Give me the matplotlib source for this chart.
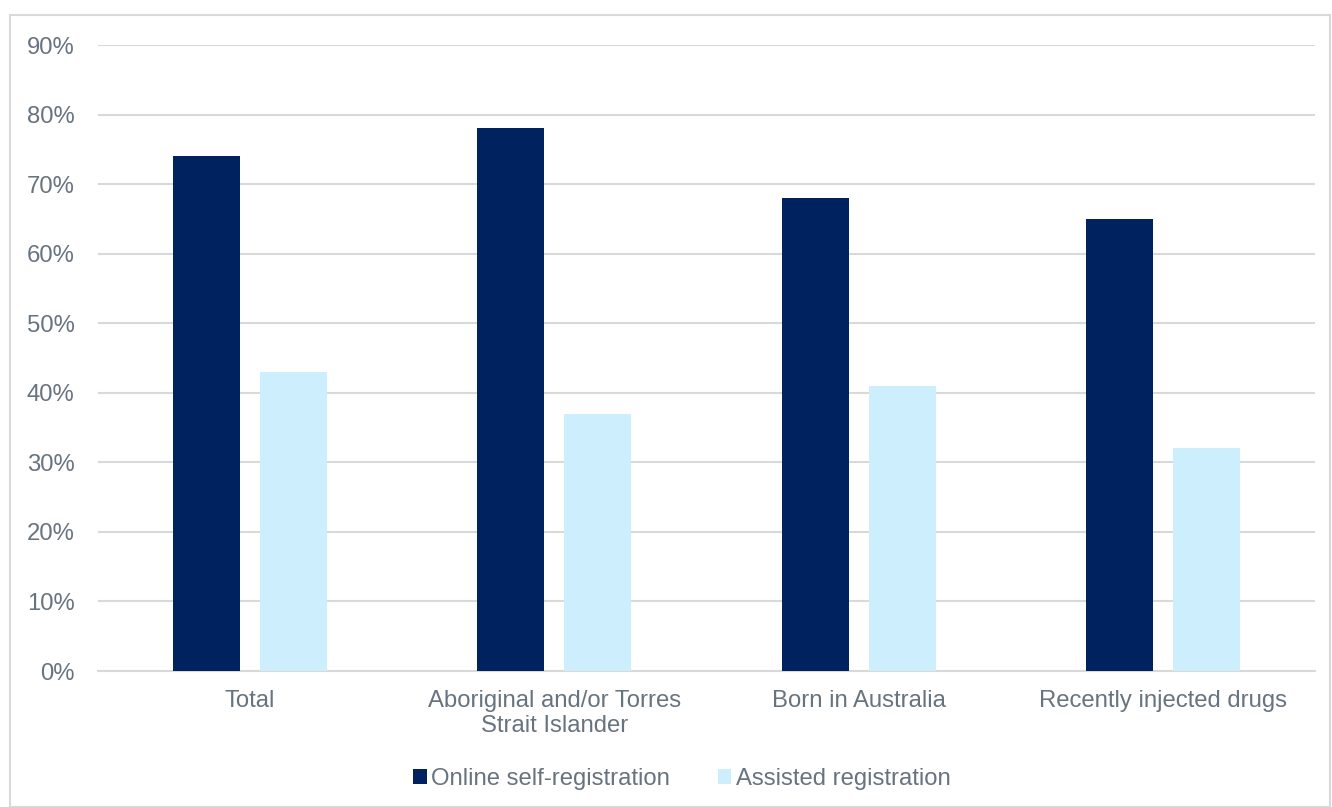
import matplotlib.pyplot as plt
import numpy as np
from matplotlib.patches import Rectangle

categories = ["Total", "Aboriginal and/or Torres\nStrait Islander", "Born in Australia", "Recently injected drugs"]
online = [74, 78, 68, 65]
assisted = [43, 37, 41, 32]
series_names = ["Online self-registration", "Assisted registration"]

dark = "#002360"
light = "#cdeefc"
text_col = "#67737f"
grid_col = "#d9d9d9"

plt.rcParams["font.family"] = ["Liberation Sans", "DejaVu Sans"]

fig = plt.figure(figsize=(13.32, 8.07), dpi=100)
fig.patches.append(Rectangle((10 / 1332, 0), 1320 / 1332, 1 - 15 / 807, transform=fig.transFigure,
                             fill=False, edgecolor=grid_col, linewidth=1.5))
ax = fig.add_axes([98 / 1332, 1 - 671 / 807, 1217 / 1332, 626 / 807])

x = np.arange(len(categories))
w = 0.22
ax.bar(x - 0.143, online, w, color=dark, label=series_names[0], zorder=3)
ax.bar(x + 0.143, assisted, w, color=light, label=series_names[1], zorder=3)

ax.set_xlim(-0.5, len(categories) - 0.5)
ax.set_ylim(0, 90)
ax.set_yticks(range(0, 91, 10))
ax.set_yticklabels([f"{v}%" for v in range(0, 91, 10)])
ax.set_xticks(x)
ax.set_xticklabels(categories, linespacing=1.15)
ax.yaxis.grid(True, color=grid_col, linewidth=1.5, zorder=0)
ax.tick_params(axis="both", length=0, labelsize=17.2, labelcolor=text_col)
ax.tick_params(axis="y", pad=17)
ax.tick_params(axis="x", pad=14)
for s in ["top", "right", "left"]:
    ax.spines[s].set_visible(False)
ax.spines["bottom"].set_color(grid_col)
ax.spines["bottom"].set_linewidth(1.5)

leg = fig.legend(loc="center", bbox_to_anchor=(0.512, 1 - 779 / 807), ncol=2, frameon=False,
                 fontsize=17.2, handlelength=0.55, handleheight=0.55, handletextpad=0.2, columnspacing=2.0)
for t in leg.get_texts():
    t.set_color(text_col)

fig.savefig("out.png", dpi=100)
